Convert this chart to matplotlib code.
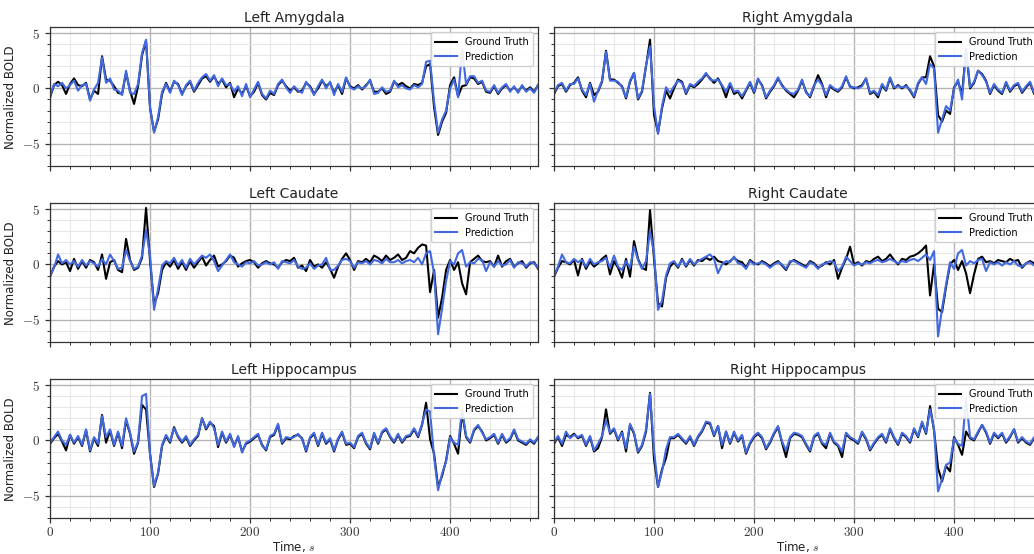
import numpy as np
import matplotlib
matplotlib.use("Agg")
import matplotlib.pyplot as plt
from matplotlib.ticker import MultipleLocator, FuncFormatter

plt.rcParams['mathtext.fontset'] = 'cm'
plt.rcParams['font.family'] = ['DejaVu Sans']

# BOLD signals, one sample every 4 s (0 .. 488 s)
dt = 4

left_amygdala_gt = [-0.8, 0.3, 0.6, 0.3, -0.5, 0.4, 0.9, 0.3, 0.2, 0.5, -1.0, -0.2, -0.5, 2.9, 0.8, 0.7, 0.2, -0.4, -0.5, 1.4,
                    -0.2, -1.4, 0.2, 3.0, 4.3, -1.8, -3.9, -2.8, -0.5, 0.5, -0.3, 0.6, 0.4, -0.5, 0.2, 0.6, -0.3, 0.3, 0.9, 1.1,
                    0.6, 1.1, 0.4, 0.8, 0.1, 0.5, -0.8, 0.0, -0.5, 0.2, -0.7, -0.3, 0.5, -0.6, -1.0, -0.4, -0.6, 0.3, 0.7, 0.2,
                    -0.2, 0.1, -0.3, -0.2, 0.5, 0.2, -0.5, 0.0, 0.7, 0.2, 0.5, -0.4, 0.3, -0.5, 0.9, 0.2, 0.0, 0.3, -0.1, 0.3,
                    0.7, -0.3, -0.3, 0.0, -0.5, -0.3, 0.6, 0.3, 0.5, 0.2, 0.0, 0.4, 0.3, 0.5, 2.0, 2.2, -1.7, -4.2, -3.0, -2.2,
                    0.3, 1.0, -0.7, 0.2, 0.3, 1.0, 0.9, 0.4, 0.6, -0.3, -0.4, 0.2, -0.5, 0.0, 0.3, -0.2, 0.1, -0.3, 0.2, -0.2,
                    0.1, -0.3, 0.3]
left_amygdala_pred = [-0.7, 0.4, 0.2, 0.5, 0.0, 0.3, 0.7, -0.2, 0.3, 0.4, -1.1, -0.1, 0.5, 2.8, 0.5, 0.9, -0.1, -0.2, -0.6, 1.6,
                      -0.4, -0.5, 0.4, 3.2, 4.4, -1.7, -4.0, -2.6, -0.3, 0.4, -0.4, 0.7, 0.3, -0.6, 0.3, 0.7, -0.2, 0.5, 1.0, 1.3,
                      0.7, 1.2, 0.2, 0.9, 0.3, 0.4, -0.3, 0.2, -0.7, 0.4, -0.8, -0.1, 0.6, -0.5, -0.9, -0.2, -0.5, 0.4, 0.8, 0.1,
                      -0.4, 0.2, -0.2, -0.4, 0.6, 0.1, -0.6, 0.2, 0.8, 0.0, 0.6, -0.6, 0.4, -0.3, 1.0, 0.1, -0.1, 0.2, 0.0, 0.2,
                      0.8, -0.5, -0.4, 0.1, -0.3, -0.2, 0.7, 0.1, 0.3, 0.0, -0.1, 0.3, 0.1, 0.4, 2.4, 2.5, -1.2, -4.0, -2.8, -2.0,
                      0.0, 0.8, -0.8, 3.5, 0.4, 1.1, 1.1, 0.5, 0.7, -0.2, -0.3, 0.3, -0.4, 0.1, 0.4, -0.3, 0.2, -0.4, 0.3, -0.3,
                      0.0, -0.4, 0.3]

right_amygdala_gt = [-0.5, 0.2, 0.4, -0.3, 0.3, 0.5, 1.0, -0.2, -0.8, 0.5, -0.6, -0.3, 0.6, 3.4, 0.8, 0.8, 0.5, 0.2, -0.9, 0.6,
                     1.4, -1.0, -0.3, 2.0, 4.4, -2.4, -4.0, -1.8, -0.2, -0.9, 0.0, 0.8, 0.6, -0.5, 0.3, 0.1, 0.4, 0.8, 1.3, 0.9,
                     0.5, 0.9, 0.2, -0.8, 0.4, -0.5, -0.3, -0.9, -0.2, 0.5, -0.4, 0.8, 0.3, -0.9, -0.3, 0.2, 0.9, 0.3, -0.2, -0.5,
                     -0.8, -0.2, 0.7, -0.3, -0.8, 0.2, 1.2, 0.4, -0.8, 0.2, -0.1, -0.3, 0.1, 1.0, 0.2, 0.0, 0.1, 0.3, 0.9, -0.5,
                     -0.3, -0.8, 0.3, -0.2, 0.9, 0.0, 0.3, 0.0, 0.3, -0.2, -0.8, 0.4, 1.0, 1.0, 2.9, 2.0, -2.4, -3.0, -2.0, -2.3,
                     0.1, 0.6, -0.5, 3.5, 0.0, 0.5, 1.6, 1.3, 0.7, -0.5, 0.3, -0.2, -0.5, 0.5, -0.3, 0.2, 0.4, -0.4, 0.1, 0.5,
                     -0.5, 0.0, 0.4]
right_amygdala_pred = [-0.4, 0.3, 0.5, -0.2, 0.4, 0.4, 0.9, -0.1, -0.6, 0.4, -1.2, -0.2, 0.7, 3.3, 0.7, 0.7, 0.6, 0.1, -0.8, 0.7,
                       1.4, -0.9, -0.2, 2.1, 3.8, -1.6, -4.1, -1.6, 0.1, -0.4, 0.2, 0.7, 0.5, -0.4, 0.4, 0.2, 0.6, 0.9, 1.4, 0.8,
                       0.7, 0.8, 0.3, -0.3, 0.5, -0.3, -0.2, -0.7, -0.1, 0.6, -0.3, 0.9, 0.2, -0.8, -0.2, 0.3, 1.0, 0.2, -0.1, -0.4,
                       -0.5, -0.1, 0.8, -0.4, -0.7, 0.3, 0.8, 0.3, -0.6, 0.3, 0.0, -0.2, 0.2, 1.1, 0.1, 0.1, 0.0, 0.2, 0.9, -0.4,
                       -0.2, -0.6, 0.4, -0.1, 1.0, 0.1, 0.2, 0.1, 0.2, -0.1, -0.7, 0.5, 1.0, 0.4, 2.2, 1.8, -4.0, -2.8, -1.6, -2.0,
                       0.0, 0.8, -1.0, 3.6, 0.1, 0.6, 1.6, 1.2, 0.6, -0.4, 0.4, -0.1, -0.4, 0.6, -0.2, 0.3, 0.5, -0.3, 0.2, 0.6,
                       -0.4, 0.1, 0.5]

left_caudate_gt = [-1.1, -0.2, 0.3, 0.0, 0.2, -0.6, 0.5, -0.4, 0.3, -0.3, 0.4, 0.2, -0.5, 0.9, -1.3, 0.2, 0.4, -0.5, -0.7, 2.3,
                   0.4, -0.5, -0.3, 0.6, 5.1, 0.3, -3.6, -2.6, -0.5, 0.2, -0.2, 0.4, -0.4, 0.2, -0.5, 0.3, -0.3, 0.2, 0.7, -0.1,
                   0.4, 0.8, -0.2, 0.0, 0.3, 0.8, 0.6, -0.2, 0.1, 0.3, 0.4, 0.2, -0.3, 0.1, 0.3, 0.1, 0.0, -0.3, 0.2, 0.4,
                   0.3, 0.6, -0.3, -0.1, -0.6, 0.4, -0.2, 0.0, -0.3, 0.2, -0.4, -1.2, -0.2, 0.5, 1.0, 0.4, -0.5, 0.3, 0.2, 0.5,
                   0.2, 0.8, 0.6, 0.3, 0.8, 0.4, 0.6, 0.9, 0.4, 0.6, 1.2, 1.0, 1.5, 1.8, 1.7, -2.5, -0.5, -4.8, -3.0, -0.5,
                   0.4, -0.5, 0.2, -1.7, -2.7, 0.2, 0.5, 0.8, 0.3, 0.2, 0.3, -0.2, 0.8, -0.2, 0.3, 0.5, -0.2, 0.1, 0.3, -0.3,
                   0.1, 0.2, -0.4]
left_caudate_pred = [-1.0, -0.3, 0.9, 0.1, 0.4, 0.0, 0.3, -0.2, 0.4, -0.1, 0.3, 0.1, -0.2, 0.5, 0.0, 0.9, 0.3, -0.4, -0.3, 1.3,
                     0.3, -0.4, -0.2, 0.8, 3.1, 0.8, -4.1, -2.2, -0.1, 0.3, 0.1, 0.6, -0.1, 0.4, -0.3, 0.5, 0.0, 0.4, 0.8, 0.6,
                     0.9, 0.3, -0.6, -0.1, 0.4, 0.9, 0.2, 0.0, -0.2, 0.2, 0.1, 0.3, -0.1, 0.0, 0.2, 0.0, 0.2, -0.4, 0.3, 0.2,
                     0.1, 0.4, -0.2, -0.4, -0.3, 0.1, -0.4, -0.1, 0.0, 0.6, -0.5, -0.5, -0.1, 0.4, 0.5, 0.3, -0.3, 0.2, 0.1, 0.3,
                     0.0, 0.4, 0.3, 0.1, 0.5, 0.2, 0.2, 0.4, 0.1, 0.3, 0.4, 0.2, 0.6, 0.0, 1.0, 1.2, -0.8, -6.3, -4.0, -1.5,
                     0.3, 0.0, 1.0, 1.3, -0.2, 0.2, 0.1, 0.5, 0.4, -0.6, 0.2, -0.2, 0.3, -0.1, 0.0, 0.4, -0.3, 0.2, 0.1, -0.2,
                     0.2, 0.1, -0.3]

right_caudate_gt = [-1.1, -0.3, 0.3, 0.2, 0.0, 0.4, -1.0, 0.5, -0.4, 0.3, -0.2, 0.1, 0.5, 0.8, -0.9, 0.3, -0.3, -1.2, 0.5, -1.1,
                    2.1, 0.5, -0.3, -0.5, 4.9, 0.5, -3.5, -3.8, -1.2, -0.2, 0.2, -0.3, 0.5, -0.2, 0.4, -0.1, 0.4, 0.3, 0.6, 0.4,
                    0.7, 0.3, 0.2, 0.0, 0.3, 0.6, 0.3, 0.2, -0.3, 0.4, 0.1, 0.0, 0.3, 0.1, -0.2, 0.1, 0.3, -0.1, -0.5, 0.2,
                    0.4, 0.2, 0.0, -0.2, 0.3, 0.1, -0.3, -0.1, 0.2, 0.0, 0.4, -1.3, -0.3, 0.5, 1.6, 0.0, 0.2, -0.1, 0.3, 0.2,
                    0.5, 0.7, 0.3, 0.5, 0.9, 0.4, 0.0, 0.5, 0.4, 0.7, 0.8, 1.0, 1.3, 1.7, -2.8, 0.0, -4.0, -4.3, -2.0, 0.0,
                    0.4, -0.5, 0.3, -0.8, -2.6, -0.9, 0.5, 0.7, 0.2, 0.3, 0.1, 0.4, 0.3, 0.2, 0.5, 0.3, 0.4, -0.3, 0.1, 0.3,
                    0.1, -0.2, 0.0]
right_caudate_pred = [-1.0, -0.2, 0.9, 0.2, 0.1, 0.5, 0.2, 0.4, -0.2, 0.5, 0.0, 0.2, 0.3, 0.6, -0.3, 0.8, -0.2, -0.5, 0.3, -0.3,
                      1.6, 0.4, -0.4, 0.3, 3.0, 1.0, -4.1, -3.3, -1.0, 0.1, 0.3, -0.2, 0.4, -0.1, 0.5, 0.0, 0.3, 0.5, 0.7, 0.9,
                      0.5, -0.8, 0.0, 0.3, 0.2, 0.7, 0.1, 0.0, -0.4, 0.3, 0.0, 0.1, 0.2, 0.0, -0.3, 0.0, 0.2, 0.0, -0.4, 0.3,
                      0.3, 0.1, -0.1, -0.3, 0.2, 0.0, -0.4, 0.0, 0.1, 0.3, 0.2, -0.6, -0.2, 0.7, 0.3, -0.1, 0.1, 0.0, 0.2, 0.1,
                      0.3, 0.4, 0.2, 0.3, 0.5, 0.3, 0.1, 0.3, 0.2, 0.4, 0.5, 0.3, 0.6, 0.9, 0.4, 1.2, -6.5, -4.0, -1.8, 0.2,
                      -0.4, 1.0, 1.3, -0.1, 0.3, 0.1, 0.4, 0.5, -0.6, 0.2, 0.0, 0.2, -0.1, 0.2, 0.0, 0.3, -0.1, -0.2, 0.1, 0.2,
                      -0.1, -0.2, 0.0]

left_hippocampus_gt = [-0.3, 0.2, 0.6, -0.1, -0.9, 0.5, -0.3, 0.3, -0.5, 0.9, -1.0, 0.2, -0.5, 2.3, -0.2, 0.9, -0.5, 0.7, -0.7, 1.8,
                       0.6, -1.2, -0.2, 3.2, 2.8, -1.2, -4.2, -3.0, -0.5, 0.4, -0.2, 1.2, 0.3, -0.2, 0.3, -0.5, 0.0, 0.4, 2.0, 1.0,
                       1.6, 1.3, -0.6, 0.7, -0.2, 0.5, -0.5, 0.3, -1.0, -0.3, -0.1, 0.2, 0.5, -0.4, -0.9, 0.3, 0.5, 1.4, -0.3, 0.2,
                       0.1, 0.4, 0.5, 0.2, -1.0, 0.2, 0.6, -0.5, 0.6, -0.3, 0.1, -1.0, 0.1, 0.7, -0.4, -0.3, -0.7, 0.3, 0.6, -0.3,
                       -0.8, 0.6, -0.3, 0.7, 1.0, 0.3, -0.2, 0.5, -0.2, 0.3, 0.4, 1.0, 0.3, 1.4, 3.4, 0.1, -1.2, -4.2, -3.2, -1.8,
                       0.4, -0.3, -1.2, 2.5, 0.3, -0.2, 0.9, 1.3, 0.8, 0.0, 0.2, 0.5, -0.3, 0.5, -0.2, 0.1, 0.9, 0.0, -0.2, -0.4,
                       0.0, -0.3, 0.3]
left_hippocampus_pred = [-0.2, 0.3, 0.8, 0.0, -0.4, 0.5, -0.2, 0.4, -0.4, 1.0, -0.9, 0.3, -0.3, 2.2, 0.3, 1.0, -0.4, 0.8, -0.5, 2.0,
                         0.7, -1.0, -0.1, 4.0, 4.2, -1.3, -4.1, -2.9, -0.4, 0.5, -0.1, 1.1, 0.4, -0.1, 0.4, -0.4, 0.1, 0.5, 2.0, 1.1,
                         1.7, 1.1, -0.4, 0.8, -0.1, 0.6, -0.6, 0.4, -1.1, -0.2, 0.0, 0.3, 0.6, -0.5, -0.8, 0.4, 0.6, 1.5, -0.2, 0.3,
                         0.2, 0.3, 0.6, 0.1, -0.9, 0.3, 0.7, -0.4, 0.7, -0.2, 0.2, -0.9, 0.2, 0.8, -0.3, -0.2, -0.6, 0.4, 0.7, -0.2,
                         -0.7, 0.7, -0.2, 0.8, 1.1, 0.4, -0.1, 0.6, -0.1, 0.4, 0.5, 1.1, 0.4, 1.5, 2.8, 2.6, -1.5, -4.5, -3.0, -1.9,
                         0.3, -0.2, -0.4, 2.8, 0.4, -0.1, 1.0, 1.4, 0.7, 0.1, 0.3, 0.6, -0.2, 0.6, -0.1, 0.2, 1.0, 0.1, -0.1, -0.3,
                         0.1, -0.2, 0.3]

right_hippocampus_gt = [-0.3, 0.3, -0.5, 0.5, 0.3, 0.6, 0.2, 0.4, -0.5, 0.3, -1.0, -0.7, 0.3, 2.8, 0.6, 1.0, 0.0, 0.8, -1.0, 1.4,
                        0.6, -1.1, -0.5, 0.8, 4.3, -1.7, -4.2, -2.6, -1.6, 0.2, 0.2, 0.5, 0.1, -0.3, 0.3, -0.5, 0.3, 0.8, 1.6, 1.5,
                        0.4, 1.3, -0.7, 0.8, -0.3, 0.7, -0.1, 0.4, -1.2, -0.3, 0.3, 0.6, 0.2, -0.8, -0.2, 0.6, 1.2, -0.2, -1.5, 0.2,
                        0.6, 0.5, 0.3, -0.4, -1.0, 0.3, 0.6, -0.3, -0.7, 0.6, -0.2, -0.5, -1.5, 0.6, 0.2, 0.0, -0.3, 0.7, 0.1, -0.9,
                        -0.3, 0.2, 0.5, -0.2, 1.0, 0.2, -0.4, 0.6, 0.3, -0.2, 1.0, 0.3, 1.6, 0.6, 3.1, 0.9, -2.5, -3.7, -2.3, -2.8,
                        0.3, -0.4, -1.3, 0.8, 0.2, 0.0, 0.7, 1.4, 0.7, -0.3, 0.6, 0.2, 0.6, -0.2, 0.3, 1.0, -0.2, 0.2, -0.2, -0.4,
                        0.2, -0.3, 0.4]
right_hippocampus_pred = [-0.2, 0.4, -0.3, 0.8, 0.2, 0.5, 0.3, 0.5, -0.4, 0.4, -0.9, -0.3, 0.4, 1.8, 0.7, 1.1, 0.1, 0.7, -0.7, 1.5,
                          0.7, -1.0, -0.4, 1.0, 4.2, -0.9, -4.2, -2.8, -0.8, 0.3, 0.3, 0.6, 0.2, -0.2, 0.4, -0.4, 0.4, 0.9, 1.7, 1.6,
                          0.5, 1.3, -0.4, 0.8, -0.2, 0.8, 0.0, 0.5, -1.1, -0.2, 0.4, 0.7, 0.3, -0.7, -0.1, 0.7, 1.3, -0.1, -0.9, 0.3,
                          0.7, 0.6, 0.4, -0.3, -0.9, 0.4, 0.7, -0.2, -0.4, 0.7, -0.1, -0.4, -1.0, 0.7, 0.3, 0.1, -0.2, 0.8, 0.2, -0.8,
                          -0.2, 0.3, 0.6, -0.1, 1.1, 0.3, -0.3, 0.7, 0.4, -0.1, 1.1, 0.4, 1.7, 0.7, 2.8, 1.0, -4.6, -3.5, -2.2, -2.0,
                          0.2, -0.3, -0.5, 3.8, 0.3, 0.1, 0.8, 1.4, 0.8, -0.2, 0.7, 0.3, 0.7, -0.1, 0.4, 1.0, -0.1, 0.3, -0.1, -0.3,
                          0.3, -0.2, 0.4]

regions = ["Left Amygdala", "Right Amygdala", "Left Caudate", "Right Caudate",
           "Left Hippocampus", "Right Hippocampus"]
ground_truth = [left_amygdala_gt, right_amygdala_gt, left_caudate_gt, right_caudate_gt,
                left_hippocampus_gt, right_hippocampus_gt]
predictions = [left_amygdala_pred, right_amygdala_pred, left_caudate_pred, right_caudate_pred,
               left_hippocampus_pred, right_hippocampus_pred]

fig = plt.figure(figsize=(10.34, 5.54), dpi=100)

# axes boxes in figure fractions; right column runs past the figure edge like the reference
col_x = [0.0484, 0.5358]
row_y = [0.7004, 0.3827, 0.0650]
ax_w, ax_h = 0.472, 0.250

tick_fmt = FuncFormatter(lambda v, pos: r"$%g$" % v)

for k, name in enumerate(regions):
    row, col = k // 2, k % 2
    ax = fig.add_axes([col_x[col], row_y[row], ax_w, ax_h])
    gt = ground_truth[k]
    pr = predictions[k]
    ax.plot(np.arange(len(gt)) * dt, gt, color="black", lw=1.5, label="Ground Truth")
    ax.plot(np.arange(len(pr)) * dt, pr, color="royalblue", lw=1.5, label="Prediction")

    ax.set_xlim(0, 488)
    ax.set_ylim(-7, 5.5)
    ax.xaxis.set_major_locator(MultipleLocator(100))
    ax.xaxis.set_minor_locator(MultipleLocator(20))
    ax.yaxis.set_major_locator(MultipleLocator(5))
    ax.yaxis.set_minor_locator(MultipleLocator(1))
    ax.grid(which="major", color="#b4b4b4", lw=1.0)
    ax.grid(which="minor", color="#e6e6e6", lw=0.7)
    ax.set_axisbelow(True)
    ax.tick_params(which="major", direction="out", length=3.5, width=0.9, colors="#333333", labelsize=9.5)
    ax.tick_params(which="minor", direction="out", length=2, width=0.7, colors="#333333")
    ax.tick_params(axis="x", which="major", pad=2)
    for sp in ax.spines.values():
        sp.set_color("#333333")
        sp.set_linewidth(0.9)

    ax.set_title(name, fontsize=10, pad=4, color="#222222")
    if col == 0:
        ax.yaxis.set_major_formatter(tick_fmt)
        ax.set_ylabel("Normalized BOLD", fontsize=8.5, color="#222222")
    else:
        ax.tick_params(axis="y", labelleft=False)
    if row == 2:
        ax.xaxis.set_major_formatter(tick_fmt)
        ax.set_xlabel(r"Time, $s$", fontsize=8.5, color="#222222", labelpad=0)
    else:
        ax.tick_params(axis="x", labelbottom=False)

    leg = ax.legend(loc="upper right", fontsize=7, frameon=True, handlelength=2.2,
                    borderpad=0.5, labelspacing=0.45, fancybox=True)
    leg.get_frame().set_edgecolor("#cccccc")
    leg.get_frame().set_alpha(0.9)

fig.savefig("out.png", dpi=100)
